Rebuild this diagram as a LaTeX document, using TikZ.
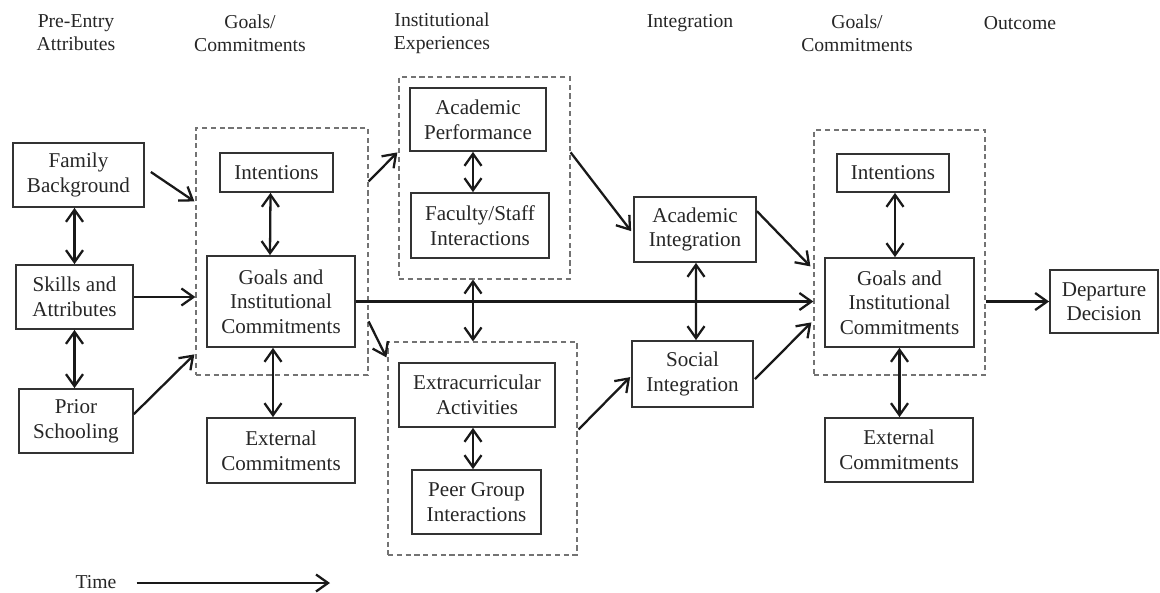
\documentclass[tikz,border=0pt]{standalone}
\usepackage{fontspec}
\setmainfont{Liberation Serif}
\usetikzlibrary{arrows.meta,calc}
\newcommand{\mybox}[6][box]{%
  \node[#1, minimum width={(#5-#3)*0.02cm}, minimum height={(#6-#4)*0.02cm}]
    (#2) at ({(#3+#5)/2},{(#4+#6)/2}) }
\begin{document}
\begin{tikzpicture}[x=0.02cm,y=-0.02cm,
  txt/.style={font=\fontsize{12}{14}\selectfont, align=center, text=black!85},
  head/.style={font=\fontsize{11.2}{13}\selectfont, align=center, text=black!85},
  box/.style={txt, draw=black!80, line width=1pt, inner sep=0pt},
  dbox/.style={draw=black!55, dashed, dash pattern=on 3pt off 2pt, line width=0.7pt, inner sep=0pt},
  tip/.tip={Straight Barb[length=2.4mm,width=3.4mm,line width=1.3pt]},
  arr/.style={-tip, line width=1.3pt, black!90},
  biarr/.style={tip-tip, line width=1.3pt, black!90}]
\useasboundingbox (0,0) rectangle (1160,592);
% headers
\node[head] (h1) at (76,33) {Pre-Entry\\Attributes};
\node[head] (h2) at (250,33) {Goals/\\Commitments};
\node[head] (h3) at (442,33) {Institutional\\Experiences};
\node[head] (h4) at (690,23) {Integration};
\node[head] (h5) at (857,33) {Goals/\\Commitments};
\node[head] (h6) at (1020,23) {Outcome};
% dashed groups
\mybox[dbox]{d1}{196}{128}{368}{375} {};
\mybox[dbox]{d2}{399}{77}{570}{279} {};
\mybox[dbox]{d3}{388}{342}{577}{555} {};
\mybox[dbox]{d4}{814}{130}{985}{375} {};
% boxes
\mybox{fam}{13}{143}{144}{207} {Family\\Background};
\mybox{ski}{16}{265}{133}{329} {Skills and\\Attributes};
\mybox{pri}{19}{389}{133}{453} {Prior\\Schooling};
\mybox{int1}{220}{153}{333}{192} {Intentions};
\mybox{goa1}{207}{256}{355}{347} {Goals and\\Institutional\\Commitments};
\mybox{ext1}{207}{418}{355}{483} {External\\Commitments};
\mybox{acp}{410}{88}{546}{151} {Academic\\Performance};
\mybox{fac}{411}{193}{549}{258} {Faculty/Staff\\Interactions};
\mybox{exa}{399}{363}{555}{427} {Extracurricular\\Activities};
\mybox{peer}{412}{470}{541}{534} {Peer Group\\Interactions};
\mybox{aci}{634}{197}{756}{262} {Academic\\Integration};
\mybox{soi}{632}{341}{753}{407} {Social\\Integration};
\mybox{int2}{837}{154}{949}{192} {Intentions};
\mybox{goa2}{825}{258}{974}{347} {Goals and\\Institutional\\Commitments};
\mybox{ext2}{825}{418}{973}{482} {External\\Commitments};
\mybox{dep}{1050}{270}{1158}{333} {Departure\\Decision};
% time
\node[head] (time) at (96,582) {Time};
\coordinate (tend) at (330,583);
\draw[arr] ($(time.east)+(14,1)$) -- (tend);
% pre-entry connectors
\draw[biarr] (fam.south -| ski.north) -- (ski.north);
\draw[biarr] (ski.south) -- (pri.north -| ski.south);
\draw[arr] ($(fam.east)+(6,-3)$) -- ($(d1.north west)+(-1,74)$);
\draw[arr] (ski.east) -- (d1.west |- ski.east);
\draw[arr] ($(pri.north east)+(0,26)$) -- ($(d1.north west)+(-1,227)$);
% group 1
\draw[biarr] ($(int1.south)+(-6,0)$) -- ($(goa1.north)+(-11,0)$);
\draw[biarr] ($(goa1.south)+(-8,0)$) -- ($(ext1.north)+(-8,0)$);
\draw[arr] ($(d1.north east)+(0,54)$) -- ($(d2.north west)+(-1,76)$);
\draw[arr] ($(d1.north east)+(0,194)$) -- ($(d3.north west)+(-1,16)$);
\draw[arr] (goa1.east) -- (d4.west |- goa1.east);
% institutional experiences
\draw[biarr] ($(acp.south)+(-5,0)$) -- ($(fac.north)+(-7,0)$);
\draw[biarr] ($(d2.south)+(-11.5,0)$) -- ($(d3.north)+(-9.5,0)$);
\draw[biarr] ($(exa.south)+(-4,0)$) -- ($(peer.north)+(-3.5,0)$);
\draw[arr] ($(d2.north east)+(0,76)$) -- ($(aci.north west)+(-2,35)$);
\draw[arr] ($(d3.north east)+(1,88)$) -- ($(soi.north west)+(-1,37)$);
% integration
\draw[biarr] ($(aci.south)+(1,0)$) -- ($(soi.north)+(3.5,0)$);
\draw[arr] ($(aci.north east)+(0,15)$) -- ($(d4.north west)+(-3,137)$);
\draw[arr] ($(soi.north east)+(1,39)$) -- ($(d4.north west)+(-2,193)$);
% group 4
\draw[biarr] ($(int2.south)+(2,0)$) -- ($(goa2.north)+(-4.5,0)$);
\draw[biarr] (goa2.south) -- (ext2.north -| goa2.south);
\draw[arr] (d4.east |- dep.west) -- (dep.west);
\end{tikzpicture}
\end{document}
